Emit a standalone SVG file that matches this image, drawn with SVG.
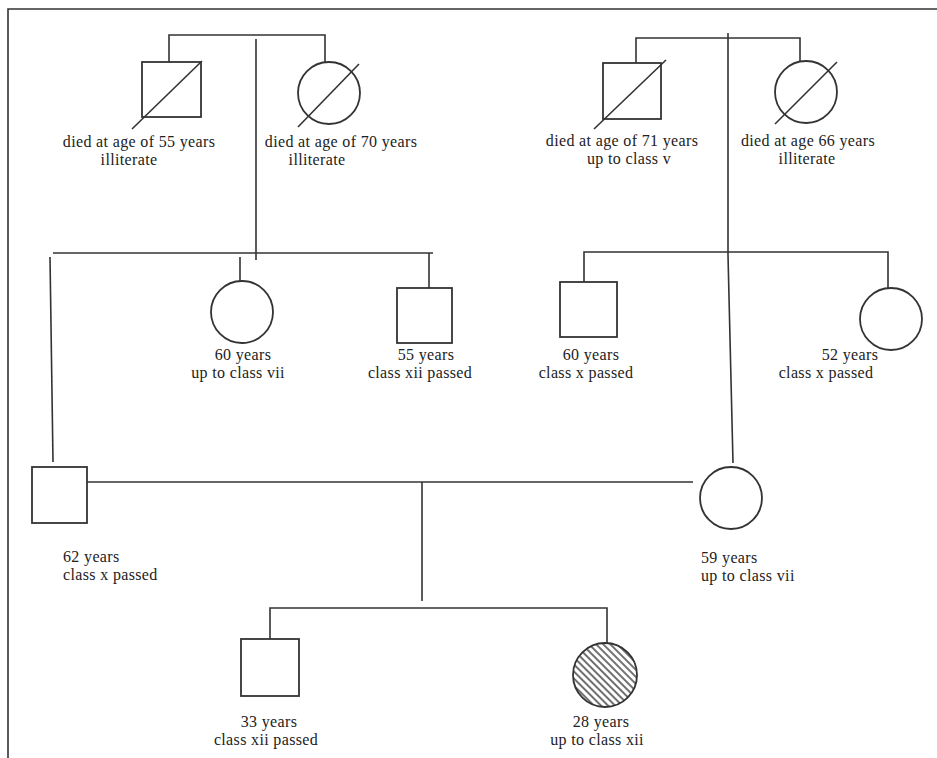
<svg xmlns="http://www.w3.org/2000/svg" width="937" height="758" viewBox="0 0 937 758">
<style>
.ln{fill:none;stroke:#333;stroke-width:1.6}
.sh{fill:#fff;stroke:#333;stroke-width:1.8}
.t{font-family:"Liberation Serif","Times New Roman",serif;font-size:16px;letter-spacing:0.35px;fill:#222}
.c{text-anchor:middle}
</style>
<defs>
<pattern id="hatch" patternUnits="userSpaceOnUse" width="5" height="5" patternTransform="rotate(-45)">
<rect width="5" height="5" fill="#fff"/>
<line x1="1" y1="0" x2="1" y2="5" stroke="#333" stroke-width="1.4"/>
</pattern>
</defs>
<rect width="937" height="758" fill="#fff"/>
<path class="ln" d="M8,758 V9 H937" stroke="#555"/>
<g id="connectors">
<path class="ln" d="M169,62 V35 H325 V62"/>
<path class="ln" d="M256,39 V260"/>
<path class="ln" d="M636,67 V38 H800 V62"/>
<path class="ln" d="M728,33 L728,255 L733,463"/>
<path class="ln" d="M53,253 H433"/>
<path class="ln" d="M50,257 L53,462"/>
<path class="ln" d="M240,257 V282"/>
<path class="ln" d="M429,253 V289"/>
<path class="ln" d="M584,282 V252 H888 V288"/>
<path class="ln" d="M87,482 H693"/>
<path class="ln" d="M422,482 V601"/>
<path class="ln" d="M270,639 V608 H607 V643"/>
</g>
<g id="gf1">
<rect class="sh" x="142" y="62" width="59" height="55"/>
<line class="ln" x1="132" y1="129" x2="202" y2="61"/>
<text class="t c" x="139" y="147">died at age of 55 years</text>
<text class="t c" x="129" y="165">illiterate</text>
</g>
<g id="gm1">
<circle class="sh" cx="329" cy="93" r="31"/>
<line class="ln" x1="298" y1="127" x2="359" y2="64"/>
<text class="t c" x="341" y="147">died at age of 70 years</text>
<text class="t c" x="317" y="165">illiterate</text>
</g>
<g id="gf2">
<rect class="sh" x="603" y="63" width="58" height="56"/>
<line class="ln" x1="594" y1="129" x2="666" y2="60"/>
<text class="t c" x="622" y="146">died at age of 71 years</text>
<text class="t c" x="629" y="164">up to class v</text>
</g>
<g id="gm2">
<circle class="sh" cx="806" cy="92" r="31"/>
<line class="ln" x1="775" y1="124" x2="837" y2="62"/>
<text class="t c" x="808" y="146">died at age 66 years</text>
<text class="t c" x="807" y="164">illiterate</text>
</g>
<g id="aunt1">
<circle class="sh" cx="242" cy="312" r="31"/>
<text class="t c" x="243" y="360">60 years</text>
<text class="t c" x="238" y="378">up to class vii</text>
</g>
<g id="uncle1">
<rect class="sh" x="397" y="288" width="55" height="55"/>
<text class="t c" x="426" y="360">55 years</text>
<text class="t c" x="420" y="378">class xii passed</text>
</g>
<g id="uncle2">
<rect class="sh" x="560" y="282" width="57" height="55"/>
<text class="t c" x="591" y="360">60 years</text>
<text class="t c" x="586" y="378">class x passed</text>
</g>
<g id="aunt2">
<circle class="sh" cx="891" cy="319" r="31"/>
<text class="t c" x="850" y="360">52 years</text>
<text class="t c" x="826" y="378">class x passed</text>
</g>
<g id="father">
<rect class="sh" x="32" y="467" width="55" height="56"/>
<text class="t" x="63" y="562">62 years</text>
<text class="t" x="63" y="580">class x passed</text>
</g>
<g id="mother">
<circle class="sh" cx="731" cy="498" r="31"/>
<text class="t" x="701" y="563">59 years</text>
<text class="t" x="701" y="581">up to class vii</text>
</g>
<g id="son">
<rect class="sh" x="241" y="639" width="58" height="57"/>
<text class="t c" x="269" y="727">33 years</text>
<text class="t c" x="266" y="745">class xii passed</text>
</g>
<g id="proband">
<circle cx="605" cy="675" r="32" fill="url(#hatch)" stroke="#333" stroke-width="1.8"/>
<text class="t c" x="601" y="727">28 years</text>
<text class="t c" x="597" y="745">up to class xii</text>
</g>
</svg>
